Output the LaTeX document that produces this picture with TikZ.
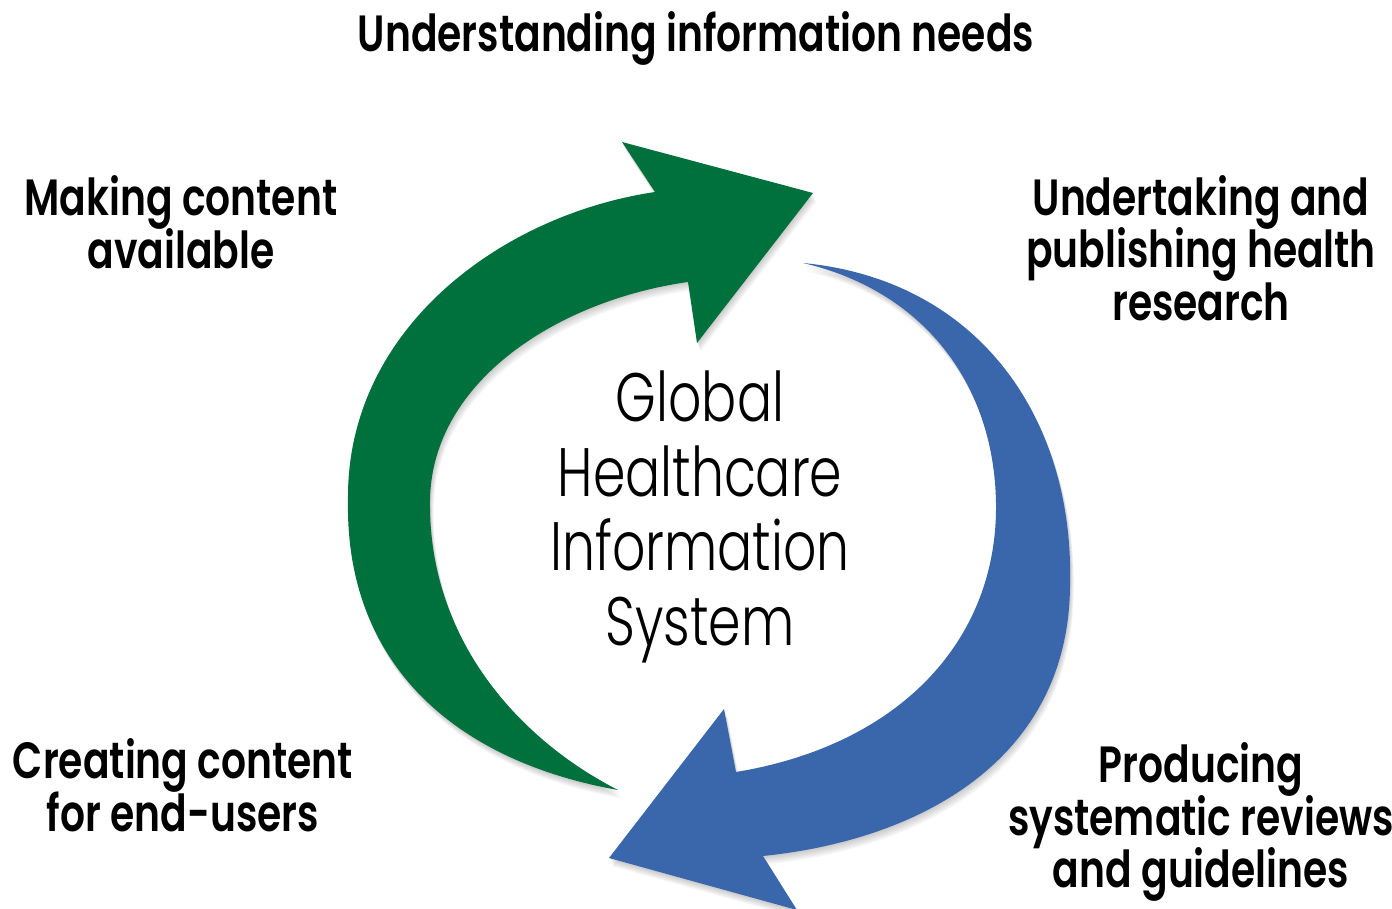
\documentclass[tikz,border=0pt]{standalone}
\usepackage{fontspec}
\setmainfont{Poppins}[FakeStretch=0.77, BoldFont={Poppins SemiBold}]
\newfontfamily\lightfont{Poppins Light}[FakeStretch=0.76]
\usetikzlibrary{positioning}
\definecolor{cycle green}{RGB}{0,112,60}
\definecolor{cycle blue}{RGB}{58,102,172}
\newcommand{\tightlines}{\setlength{\lineskiplimit}{-20pt}}
\tikzset{
  stage text/.style = {font = {\bfseries\fontsize{14.5}{15}\selectfont\tightlines}, align = center, inner sep = 0pt},
  hub text/.style = {font = {\lightfont\fontsize{19.5}{21.3}\selectfont\tightlines}, align = center, inner sep = 0pt},
  green arrow/.style = {insert path = {(618, 790) .. controls (450, 760) and (345, 660) .. (348, 500)
    .. controls (346, 330) and (500, 215) .. (655, 192) -- (622, 142) -- (813, 193) -- (697, 343) -- (688, 282)
    .. controls (560, 300) and (432, 380) .. (430, 500) .. controls (428, 640) and (520, 740) .. (618, 790) -- cycle}},
  blue arrow/.style = {insert path = {(803, 263) .. controls (980, 280) and (1075, 420) .. (1070, 587)
    .. controls (1068, 760) and (920, 840) .. (763, 856) -- (797, 910) -- (609, 858) -- (724, 709) -- (736, 772)
    .. controls (900, 745) and (998, 640) .. (996, 503) .. controls (994, 380) and (920, 290) .. (803, 263) -- cycle}}
}
\begin{document}
\begin{tikzpicture}[x = 0.1mm, y = -0.1mm]
\useasboundingbox (0, 0) rectangle (1392, 909);
% soft shadows
\foreach \s in {1, ..., 6} \fill[black, opacity = 0.035, shift = {(0.6*\s, 1.4*\s)}, green arrow];
\foreach \s in {1, ..., 6} \fill[black, opacity = 0.035, shift = {(0.6*\s, 1.4*\s)}, blue arrow];
\fill[cycle green, green arrow];
\fill[cycle blue, blue arrow];
\node[stage text] (needs) at (696, 38) {Understanding information needs};
\node[stage text] (making) at (181, 222) {Making content\\available};
\node[stage text] (undertaking) at (1201, 248) {Undertaking and\\publishing health\\research};
\node[stage text] (creating) at (183, 785) {Creating content\\for end-users};
\node[stage text] (producing) at (1201, 822) {Producing\\systematic reviews\\and guidelines};
\node[hub text] (system) at (700, 517) {Global\\Healthcare\\Information\\System};
\end{tikzpicture}
\end{document}
